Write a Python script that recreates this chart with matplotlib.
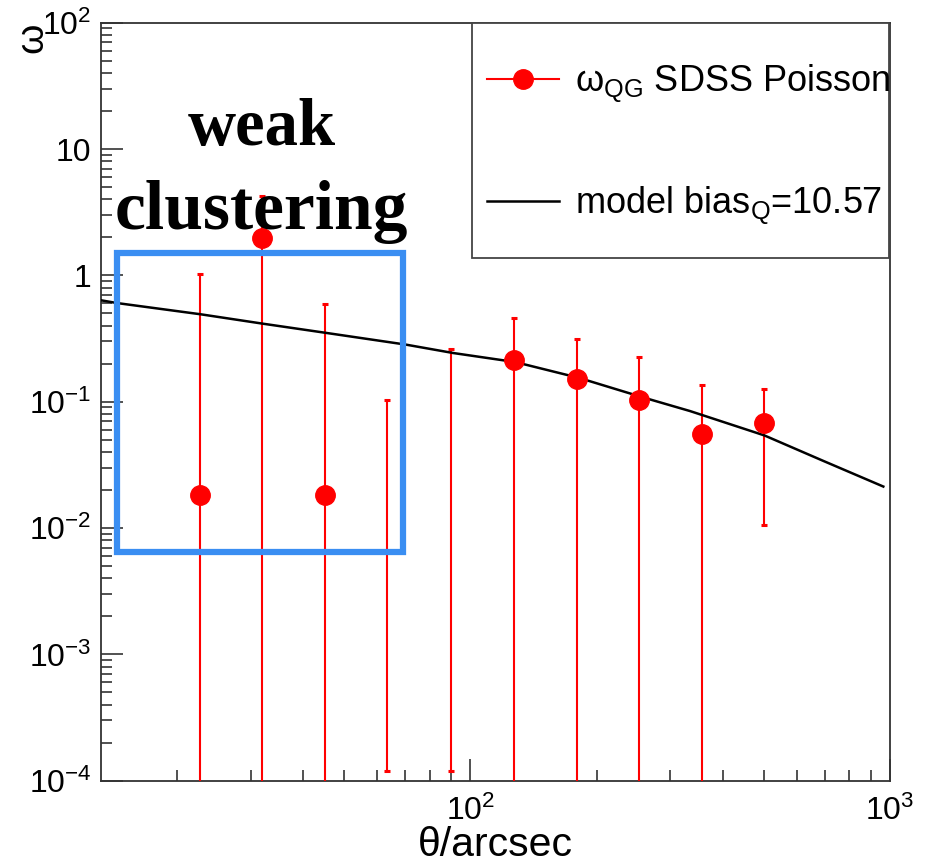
import numpy as np
import matplotlib
matplotlib.use("Agg")
import matplotlib.pyplot as plt
from matplotlib.lines import Line2D
from matplotlib.patches import Rectangle
from matplotlib.ticker import FixedLocator, FixedFormatter, LogLocator, NullFormatter

plt.rcParams['font.family'] = ['Liberation Sans', 'DejaVu Sans']
plt.rcParams['mathtext.fontset'] = 'custom'
plt.rcParams['mathtext.rm'] = 'Liberation Sans'
plt.rcParams['mathtext.it'] = 'Liberation Sans:italic'

# measured w(theta), None in w_lo = bar runs off the bottom of the plot
theta = [22.7, 32.0, 45.0, 63.5, 90.0, 127.0, 179.5, 252.0, 357.0, 502.0]
w = [0.0184, 1.99, 0.0184, np.nan, np.nan, 0.212, 0.151, 0.104, 0.0557, 0.0682]
w_hi = [1.03, 4.26, 0.597, 0.104, 0.26, 0.46, 0.315, 0.2255, 0.136, 0.126]
w_lo = [None, None, None, 1.2e-4, 1.2e-4, None, None, None, None, 0.0105]

# model curve, bias_Q = 10.57
model_theta = [13.2, 14.4, 22.8, 32.0, 45.5, 70.3, 91.0, 128.0, 182.0, 256.0, 334.0, 502.0, 695.0, 964.0]
model_w = [0.635, 0.604, 0.492, 0.415, 0.350, 0.283, 0.243, 0.206, 0.154, 0.109, 0.0843, 0.0541, 0.0339, 0.0213]

ytick_vals = [1e-4, 1e-3, 1e-2, 1e-1, 1, 10, 100]
ytick_labels = [r'$\mathregular{10^{-4}}$', r'$\mathregular{10^{-3}}$', r'$\mathregular{10^{-2}}$',
                r'$\mathregular{10^{-1}}$', '1', '10', r'$\mathregular{10^{2}}$']
xtick_vals = [100, 1000]
xtick_labels = [r'$\mathregular{10^{2}}$', r'$\mathregular{10^{3}}$']

W, H = 927, 868
fig = plt.figure(figsize=(W / 100, H / 100), dpi=100)
ax = fig.add_axes([101 / W, 1 - 780.7 / H, (890 - 101) / W, (780.7 - 22.7) / H])
ax.set_xscale('log')
ax.set_yscale('log')
ax.set_xlim(13.2, 1000)
ax.set_ylim(1e-4, 1e2)

red = '#ff0000'
lo = [v if v is not None else 1e-6 for v in w_lo]
ax.vlines(theta, lo, w_hi, color=red, lw=1.5, zorder=3)
ax.plot(theta, w_hi, ls='none', marker='_', ms=5, mew=2.2, color=red, zorder=3)
lo_caps = [(t, v) for t, v in zip(theta, w_lo) if v is not None]
ax.plot([t for t, _ in lo_caps], [v for _, v in lo_caps], ls='none', marker='_', ms=5, mew=2.2,
        color=red, zorder=3)
ax.plot(theta, w, ls='none', marker='o', ms=14, color=red, mec=red, zorder=4)
ax.plot(model_theta, model_w, color='black', lw=1.8, zorder=3)

ax.yaxis.set_major_locator(FixedLocator(ytick_vals))
ax.yaxis.set_major_formatter(FixedFormatter(ytick_labels))
ax.yaxis.set_minor_locator(LogLocator(base=10, subs=np.arange(2, 10), numticks=20))
ax.yaxis.set_minor_formatter(NullFormatter())
ax.xaxis.set_major_locator(FixedLocator(xtick_vals))
ax.xaxis.set_major_formatter(FixedFormatter(xtick_labels))
ax.xaxis.set_minor_locator(LogLocator(base=10, subs=np.arange(2, 10), numticks=20))
ax.xaxis.set_minor_formatter(NullFormatter())

ax.tick_params(which='major', direction='in', length=16, width=1.2, color='#333333', labelsize=23)
ax.tick_params(which='minor', direction='in', length=8, width=1.2, color='#333333')
ax.tick_params(axis='y', which='major', pad=7)
ax.tick_params(axis='x', which='major', pad=11)
for s in ax.spines.values():
    s.set_linewidth(1.3)
    s.set_color('#333333')

ax.set_xlabel('θ/arcsec', fontsize=29.5, labelpad=-1)
fig.text(32 / W, 1 - 38 / H, 'ω', rotation=90, fontsize=28, ha='center', va='center')

# blue box highlighting the weak clustering region
ax.add_patch(Rectangle((14.45, 0.00643), 69.3 - 14.45, 1.51 - 0.00643, fill=False,
                       edgecolor='#3a8ef2', lw=4.5, zorder=5, joinstyle='miter'))
fig.text(262 / W, 1 - 145 / H, 'weak', fontsize=48, fontweight='bold', family='Liberation Serif',
         ha='center', va='baseline', zorder=6)
fig.text(261 / W, 1 - 229 / H, 'clustering', fontsize=50, fontweight='bold', family='Liberation Serif',
         ha='center', va='baseline', zorder=6)

# legend box
fig.patches.append(Rectangle((472 / W, 1 - 258 / H), 417 / W, 235 / H, transform=fig.transFigure,
                             facecolor='white', edgecolor='#444444', lw=1.3, zorder=4))
handles = [Line2D([], [], color=red, lw=1.5, marker='o', ms=14),
           Line2D([], [], color='black', lw=1.8)]
labels = [r'ω$_{\mathregular{QG}}$ SDSS Poisson', r'model bias$_{\mathregular{Q}}$=10.57']
leg = fig.legend(handles, labels, loc='upper left', bbox_to_anchor=(487 / W, 1 - 63 / H),
                 frameon=False, fontsize=26, handlelength=2.0, handletextpad=0.45,
                 labelspacing=2.2, borderpad=0, borderaxespad=0)
leg.set_zorder(5)

fig.savefig('out.png', dpi=100)
